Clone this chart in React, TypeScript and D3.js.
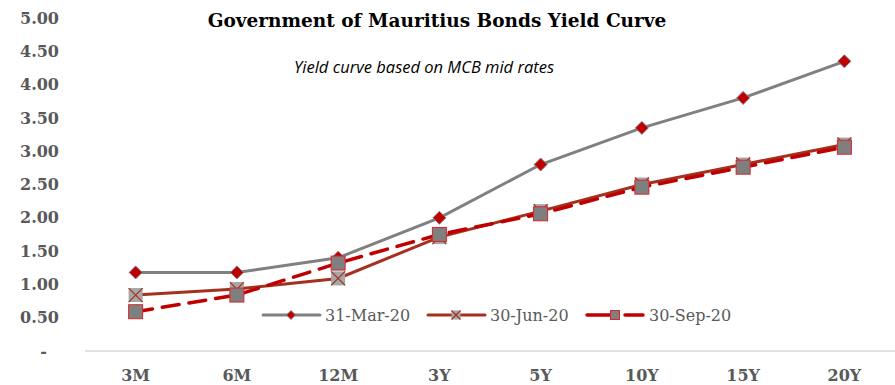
import React from "react";
import * as d3 from "d3";

const categories = ["3M", "6M", "12M", "3Y", "5Y", "10Y", "15Y", "20Y"];
const mar20 = [1.18, 1.18, 1.4, 2.0, 2.8, 3.35, 3.8, 4.35];
const jun20 = [0.84, 0.93, 1.09, 1.71, 2.1, 2.5, 2.8, 3.1];
const sep20 = [0.59, 0.84, 1.32, 1.75, 2.06, 2.46, 2.76, 3.06];
const yTicks = [0, 0.5, 1, 1.5, 2, 2.5, 3, 3.5, 4, 4.5, 5];
const seriesNames = ["31-Mar-20", "30-Jun-20", "30-Sep-20"];

const W = 895;
const H = 385;
const slab = "'DejaVu Serif', serif";

export default function App() {
  const x = d3.scaleBand<string>().domain(categories).range([85, 895]);
  const y = d3.scaleLinear().domain([0, 5]).range([351, 18]);
  const cx = (c: string) => (x(c) as number) + x.bandwidth() / 2;
  const line = d3
    .line<number>()
    .x((_, i) => cx(categories[i]))
    .y((d) => y(d));

  const diamond = (px: number, py: number, r: number, key: string) => (
    <path
      key={key}
      d={`M${px},${py - r}L${px + r},${py}L${px},${py + r}L${px - r},${py}Z`}
      fill="#C00000"
      stroke="#7F7F7F"
      strokeWidth={1}
    />
  );
  const xMark = (px: number, py: number, r: number, key: string) => (
    <g key={key}>
      <rect x={px - r} y={py - r} width={2 * r} height={2 * r} fill="#A6A6A6" />
      <path
        d={`M${px - r},${py - r}L${px + r},${py + r}M${px + r},${py - r}L${px - r},${py + r}`}
        stroke="#A5301F"
        strokeWidth={1.2}
      />
    </g>
  );
  const sqMark = (px: number, py: number, r: number, key: string) => (
    <rect
      key={key}
      x={px - r}
      y={py - r}
      width={2 * r}
      height={2 * r}
      fill="#7F7F7F"
      stroke="#D9262B"
      strokeWidth={1}
    />
  );

  const legendY = 315;
  const legendItems = [
    { x0: 263, name: seriesNames[0] },
    { x0: 428, name: seriesNames[1] },
    { x0: 587, name: seriesNames[2] },
  ];

  return (
    <div style={{ position: "absolute", left: 0, top: 0 }}>
      <svg width={W} height={H} style={{ display: "block", background: "#fff" }}>
        <line x1={85} x2={895} y1={y(0)} y2={y(0)} stroke="#D9D9D9" strokeWidth={1.5} />
        {yTicks.map((t) => (
          <text
            key={t}
            x={t === 0 ? 47 : 59}
            y={y(t)}
            dy="0.35em"
            textAnchor="end"
            fontFamily={slab}
            fontWeight="bold"
            fontSize={16}
            fill="#595959"
          >
            {t === 0 ? "-" : t.toFixed(2)}
          </text>
        ))}
        {categories.map((c) => (
          <text
            key={c}
            x={cx(c)}
            y={381}
            textAnchor="middle"
            fontFamily={slab}
            fontWeight="bold"
            fontSize={16}
            fill="#595959"
          >
            {c}
          </text>
        ))}
        <text
          x={437}
          y={27}
          textAnchor="middle"
          fontFamily={slab}
          fontWeight="bold"
          fontSize={18.5}
          fill="#000"
        >
          Government of Mauritius Bonds Yield Curve
        </text>
        <text
          x={424}
          y={73}
          textAnchor="middle"
          fontFamily="'Open Sans', sans-serif"
          fontStyle="italic"
          fontSize={16.5}
          fill="#000"
        >
          Yield curve based on MCB mid rates
        </text>

        <path d={line(mar20) ?? ""} fill="none" stroke="#808080" strokeWidth={3} />
        <path d={line(jun20) ?? ""} fill="none" stroke="#A5301F" strokeWidth={3} />
        <path
          d={line(sep20) ?? ""}
          fill="none"
          stroke="#C00000"
          strokeWidth={3.5}
          strokeDasharray="17,10"
          strokeLinecap="round"
        />
        {mar20.map((v, i) => diamond(cx(categories[i]), y(v), 6.5, "m" + i))}
        {jun20.map((v, i) => xMark(cx(categories[i]), y(v), 7, "j" + i))}
        {sep20.map((v, i) => sqMark(cx(categories[i]), y(v), 7, "s" + i))}

        {legendItems.map((it, i) => {
          const mx = it.x0 + 28;
          return (
            <g key={it.name}>
              {i === 0 && (
                <line x1={it.x0} x2={it.x0 + 57} y1={legendY} y2={legendY} stroke="#808080" strokeWidth={3} strokeLinecap="round" />
              )}
              {i === 1 && (
                <line x1={it.x0} x2={it.x0 + 57} y1={legendY} y2={legendY} stroke="#A5301F" strokeWidth={3} strokeLinecap="round" />
              )}
              {i === 2 && (
                <g>
                  <line x1={it.x0} x2={it.x0 + 23} y1={legendY} y2={legendY} stroke="#C00000" strokeWidth={3.5} strokeLinecap="round" />
                  <line x1={it.x0 + 38} x2={it.x0 + 56} y1={legendY} y2={legendY} stroke="#C00000" strokeWidth={3.5} strokeLinecap="round" />
                </g>
              )}
              {i === 0 && diamond(mx, legendY, 4.5, "lg0")}
              {i === 1 && xMark(mx, legendY, 4.5, "lg1")}
              {i === 2 && sqMark(mx, legendY, 4.5, "lg2")}
              <text
                x={it.x0 + 62}
                y={legendY}
                dy="0.35em"
                fontFamily={slab}
                fontSize={16}
                fill="#595959"
              >
                {it.name}
              </text>
            </g>
          );
        })}
      </svg>
    </div>
  );
}
